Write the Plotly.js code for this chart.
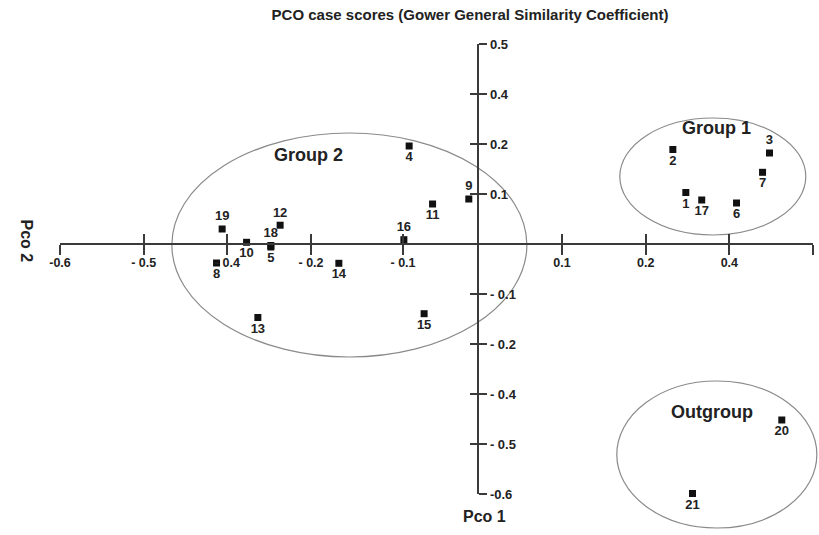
<!DOCTYPE html>
<html><head><meta charset="utf-8">
<script src="https://cdn.plot.ly/plotly-3.0.1.min.js"></script>
<style>body{margin:0;background:#fff}#chart{width:819px;height:535px}</style>
</head><body><div id="chart"></div>
<script>
// ---- data ----
const caseIds = ['1','2','3','4','5','6','7','8','9','10','11','12','13','14','15','16','17','18','19','20','21'];
const pco1 = [0.248,0.2325,0.348,-0.0827,-0.248,0.3086,0.3397,-0.3129,-0.0114,-0.277,-0.0547,-0.2369,-0.2635,-0.1667,-0.0648,-0.089,0.267,-0.248,-0.3062,0.3627,0.256];
const pco2 = [0.103,0.189,0.182,0.196,-0.006,0.082,0.1434,-0.038,0.09,0.0034,0.08,0.0376,-0.147,-0.0386,-0.1394,0.0086,0.088,-0.003,0.03,-0.352,-0.499];
const labelsAbove = ['3','9','12','16','18','19'];

const xTickVals = [-0.5,-0.4,-0.3,-0.2,-0.09,0.1,0.2,0.3,0.4];
const xTickText = ['-0.6','- 0.5','- 0.4','- 0.2','- 0.1','0.1','0.2','0.4','0.5'];
const yTickVals = [0.4,0.3,0.2,0.1,-0.1,-0.2,-0.3,-0.4,-0.5];
const yTickText = ['0.5','0.4','0.2','0.1','- 0.1','- 0.2','- 0.4','- 0.5','-0.6'];

const groupNames = ['Group 2','Group 1','Outgroup'];
const groupLabelX = [-0.2026,0.2847,0.2787];
const groupLabelY = [0.178,0.2314,-0.3354];
const ellipseX0 = [-0.3663,0.1691,0.1655];
const ellipseX1 = [0.058,0.3914,0.4046];
const ellipseY0 = [-0.226,0.018,-0.568];
const ellipseY1 = [0.222,0.252,-0.274];

const chartTitle = 'PCO case scores (Gower General Similarity Coefficient)';
const xTitle = 'Pco 1';
const yTitle = 'Pco 2';

// ---- chart ----
const xRange = [-0.5,0.4], yRange = [-0.5,0.4];
const FONT = 'Liberation Sans, Arial, sans-serif';
const INK = '#222';
const AX = '#3a3a3a';
const xPos = (0 - yRange[0])/(yRange[1]-yRange[0]);
const yPos = (0 - xRange[0])/(xRange[1]-xRange[0]);
const toPX = v => (v - xRange[0])/(xRange[1]-xRange[0]);
const toPY = v => (v - yRange[0])/(yRange[1]-yRange[0]);

const traces = [
  {x: pco1, y: pco2, text: caseIds, type:'scatter', mode:'markers+text', xaxis:'x', yaxis:'y',
   marker:{symbol:'square', size:7, color:'#111'},
   textposition: caseIds.map(id => labelsAbove.includes(id) ? 'top center' : 'bottom center'),
   textfont:{family:FONT, size:13, color:INK, weight:'bold'}, cliponaxis:false, hoverinfo:'skip'},
  {x: pco1, y: pco2, type:'scatter', mode:'markers', xaxis:'x2', yaxis:'y2',
   marker:{size:1, opacity:0}, cliponaxis:false, hoverinfo:'skip'}
];

const baseX = {range:xRange, anchor:'free', position:xPos, showgrid:false, zeroline:false,
  tickvals:xTickVals, ticklen:10, tickwidth:2, tickcolor:AX, automargin:false, fixedrange:true};
const baseY = {range:yRange, anchor:'free', position:yPos, showgrid:false, zeroline:false,
  tickvals:yTickVals, ticklen:8, tickwidth:2, tickcolor:AX, automargin:false, fixedrange:true};

const shapes = groupNames.map((g,i) => ({type:'circle', xref:'paper', yref:'paper',
  x0:toPX(ellipseX0[i]), x1:toPX(ellipseX1[i]), y0:toPY(ellipseY0[i]), y1:toPY(ellipseY1[i]),
  line:{color:'#8a8a8a', width:1.2}, layer:'below'}));

const annotations = groupNames.map((g,i) => ({text:g, x:groupLabelX[i], y:groupLabelY[i],
  xref:'x', yref:'y', showarrow:false, font:{family:FONT, size:18, color:INK, weight:'bold'}}));
annotations.push({text:xTitle, xref:'paper', yref:'paper', x:(484-60)/753, y:(535-41-527)/450,
  showarrow:false, font:{family:FONT, size:16, color:INK, weight:'bold'}});
annotations.push({text:yTitle, xref:'paper', yref:'paper', x:(16-60)/753, y:(494-241)/450,
  textangle:90, showarrow:false, font:{family:FONT, size:16, color:INK, weight:'bold'}});

const layout = {
  width:819, height:535, paper_bgcolor:'#fff', plot_bgcolor:'#fff', showlegend:false,
  margin:{l:60, r:6, t:44, b:41},
  title:{text:chartTitle, xref:'container', yref:'container', x:470/819, y:1-15/535,
    xanchor:'center', yanchor:'middle', font:{family:FONT, size:15, color:INK, weight:'bold'}},
  xaxis: Object.assign({}, baseX, {showline:true, linecolor:AX, linewidth:2, ticks:'outside', side:'bottom',
    ticktext:xTickText, ticklabelstandoff:-3, tickfont:{family:FONT, size:12.5, color:INK, weight:'bold'}}),
  xaxis2: Object.assign({}, baseX, {overlaying:'x', side:'bottom', ticks:'inside', showticklabels:false, showline:false}),
  yaxis: Object.assign({}, baseY, {showline:true, linecolor:AX, linewidth:2, ticks:'outside', side:'right',
    ticktext:yTickText, tickfont:{family:FONT, size:13, color:INK, weight:'bold'}}),
  yaxis2: Object.assign({}, baseY, {overlaying:'y', side:'right', ticks:'inside', showticklabels:false, showline:false}),
  shapes: shapes,
  annotations: annotations
};

Plotly.newPlot('chart', traces, layout, {staticPlot:true, displayModeBar:false});
</script>
</body></html>
